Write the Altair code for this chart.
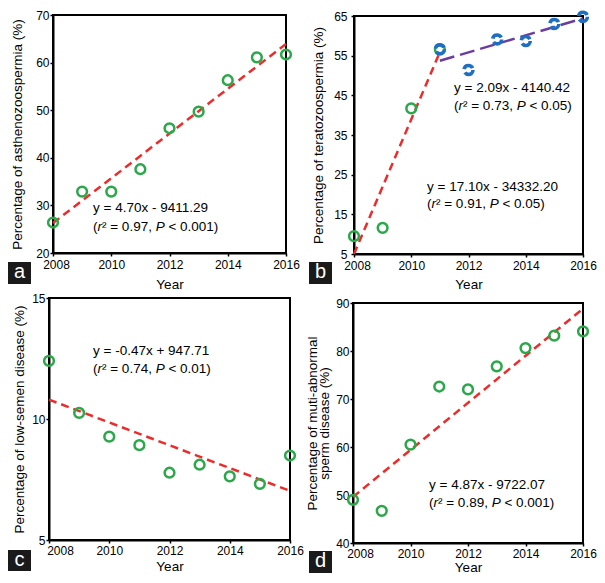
import altair as alt
import pandas as pd

FONT = "Liberation Sans"
GREEN = "#2aa84a"
BLUE = "#1f6fc0"
RED = "#ee2b2b"
PURPLE = "#6a3d9f"

# ---------------- data ----------------
years = [2008, 2009, 2010, 2011, 2012, 2013, 2014, 2015, 2016]
astheno_pct = [26.4, 32.9, 32.9, 37.6, 46.2, 49.7, 56.3, 61.1, 61.7]

terato_years_1 = [2008, 2009, 2010, 2011]
terato_pct_1 = [9.5, 11.6, 41.7, 56.6]
terato_years_2 = [2011, 2012, 2013, 2014, 2015, 2016]
terato_pct_2 = [56.6, 51.4, 59.1, 58.7, 63.0, 64.8]

lowsemen_pct = [12.4, 10.25, 9.27, 8.92, 7.78, 8.11, 7.63, 7.32, 8.49]
multi_pct = [49.0, 46.7, 60.5, 72.6, 72.0, 76.8, 80.6, 83.2, 84.1]

# fitted trend lines (end points)
fit_a_years = [2008, 2016]
fit_a = [26.3, 63.9]
fit_b1_years = [2008, 2011]
fit_b1 = [5.0, 55.9]
fit_b2_years = [2011, 2016]
fit_b2 = [53.7, 64.4]
fit_c_years = [2008, 2016]
fit_c = [10.8, 7.03]
fit_d_years = [2008, 2016]
fit_d = [49.6, 88.8]

x_ticks = [2008, 2010, 2012, 2014, 2016]

TOTAL_W, TOTAL_H = 589, 567

# ---------------- helpers ----------------
W = {'(': .333, ')': .333, 'r': .333, '\u00b2': .333, ' ': .278, '=': .584,
     '.': .278, ',': .278, 'P': .667, '<': .584, '-': .333, '+': .584,
     'x': .5, 'y': .5}
for d in "0123456789":
    W[d] = .556
EQ_FS = 13.5


def tw(s, fs=EQ_FS):
    return sum(W.get(c, .556) for c in s) * fs


def enc(xr, yr, ydomain, yticks, ytitle, ytp, ylp, xtp, xlp, first_off):
    xaxis = dict(values=x_ticks, format="d", title="Year", orient="bottom",
                 offset=yr[0] - TOTAL_H, titlePadding=xtp, labelPadding=xlp,
                 labelOffset={"condition": {"test": "datum.value == 2008", "value": first_off},
                              "value": 0})
    x = alt.X("Year:Q",
              scale=alt.Scale(domain=[2008, 2016], range=xr, nice=False, zero=False),
              axis=alt.Axis(**xaxis))
    y = alt.Y("Pct:Q",
              scale=alt.Scale(domain=ydomain, range=yr, nice=False, zero=False),
              axis=alt.Axis(values=yticks, title=ytitle, orient="left", offset=-xr[0],
                            titlePadding=ytp, labelPadding=ylp))
    return x, y


def frame(ydomain, x, y):
    df = pd.DataFrame({"Year": [2008], "Year2": [2016],
                       "Pct": [ydomain[0]], "Pct2": [ydomain[1]]})
    return alt.Chart(df).mark_rect(fill="transparent", stroke="black", strokeWidth=2).encode(
        x=x, x2=alt.X2("Year2"), y=y, y2=alt.Y2("Pct2"))


def points(yrs, vals, color, x, y, dashed=False):
    df = pd.DataFrame({"Year": yrs, "Pct": vals})
    if dashed:
        m = alt.Chart(df).mark_point(shape="circle", filled=False, size=80, strokeWidth=3.6,
                                     strokeDash=[11, 3.5], color=color, opacity=1)
    else:
        m = alt.Chart(df).mark_point(shape="circle", filled=False, size=95, strokeWidth=2.5,
                                     color=color, opacity=1)
    return m.encode(x=x, y=y)


def fitline(yrs, vals, color, dash, x, y):
    df = pd.DataFrame({"Year": yrs, "Pct": vals})
    return alt.Chart(df).mark_line(color=color, strokeWidth=2.5, strokeDash=dash).encode(
        x=x, y=y)


def equation(px, py1, py2, line1, r2, pval):
    layers = []
    base = alt.Chart(pd.DataFrame({"k": [0]}))
    layers.append(base.mark_text(text=line1, align="left", baseline="middle", fontSize=EQ_FS,
                                 font=FONT, color="black")
                  .encode(x=alt.value(px), y=alt.value(py1)))
    # (r² = v, P < p) built from pieces; spaces are kept as offsets
    pieces = [("(", False), ("r", True), ("\u00b2 = %s," % r2, False), (" ", False),
              ("P", True), (" ", False), ("< %s)" % pval, False)]
    off = 0.0
    for txt, ital in pieces:
        if txt.strip():
            layers.append(base.mark_text(text=txt, align="left", baseline="middle",
                                         fontSize=EQ_FS, font=FONT, color="black",
                                         fontStyle="italic" if ital else "normal")
                          .encode(x=alt.value(px + off), y=alt.value(py2)))
        off += tw(txt)
    return layers


def letterbox(letter, x1, x2, y1, y2):
    base = alt.Chart(pd.DataFrame({"k": [0]}))
    rect = base.mark_rect(color="#1a1a1a").encode(
        x=alt.value(x1), x2=alt.value(x2), y=alt.value(y1), y2=alt.value(y2))
    txt = base.mark_text(text=letter, align="center", baseline="middle", fontSize=20,
                         font=FONT, color="white").encode(
        x=alt.value((x1 + x2) / 2), y=alt.value((y1 + y2) / 2 - 1))
    return [rect, txt]


# ---------------- panel a ----------------
dom_a = [20, 70]
xa, ya = enc([45, 278], [245, 7], dom_a, [20, 30, 40, 50, 60, 70],
             "Percentage of asthenozoospermia (%)", 11, 1, 7, 3, 3)
panel_a = alt.layer(
    frame(dom_a, xa, ya),
    fitline(fit_a_years, fit_a, RED, [8, 5], xa, ya),
    points(years, astheno_pct, GREEN, xa, ya),
    *equation(85, 200, 219, "y = 4.70x - 9411.29", "0.97", "0.001"),
    *letterbox("a", 0, 23, 254, 276),
)

# ---------------- panel b ----------------
dom_b = [5, 65]
xb, yb = enc([346, 575], [246, 8], dom_b, [5, 15, 25, 35, 45, 55, 65],
             "Percentage of teratozoospermia (%)", 8, 4, 6, 3, 3)
panel_b = alt.layer(
    frame(dom_b, xb, yb),
    fitline(fit_b1_years, fit_b1, RED, [8, 5], xb, yb),
    points(terato_years_1, terato_pct_1, GREEN, xb, yb),
    fitline(fit_b2_years, fit_b2, PURPLE, [15, 6], xb, yb),
    points(terato_years_2, terato_pct_2, BLUE, xb, yb, dashed=True),
    *equation(446, 80, 98, "y = 2.09x - 4140.42", "0.73", "0.05"),
    *equation(419, 179, 196, "y = 17.10x - 34332.20", "0.91", "0.05"),
    *letterbox("b", 301, 324, 254, 276),
)

# ---------------- panel c ----------------
dom_c = [5, 15]
xc, yc = enc([41, 282], [532, 290], dom_c, [5, 10, 15],
             "Percentage of low-semen disease (%)", 5, 1, 3, 2, 11)
panel_c = alt.layer(
    frame(dom_c, xc, yc),
    fitline(fit_c_years, fit_c, RED, [8, 5], xc, yc),
    points(years, lowsemen_pct, GREEN, xc, yc),
    *equation(85, 343, 361, "y = -0.47x + 947.71", "0.74", "0.01"),
    *letterbox("c", 0, 23, 542, 563),
)

# ---------------- panel d ----------------
dom_d = [40, 90]
xd, yd = enc([345, 575], [535, 295], dom_d, [40, 50, 60, 70, 80, 90],
             ["Percentage of muti-abnormal", "sperm disease (%)"], 4, 1, 1, 2, 7)
panel_d = alt.layer(
    frame(dom_d, xd, yd),
    fitline(fit_d_years, fit_d, RED, [8, 5], xd, yd),
    points(years, multi_pct, GREEN, xd, yd),
    *equation(421, 477, 495, "y = 4.87x - 9722.07", "0.89", "0.001"),
    *letterbox("d", 301, 324, 543, 565),
)

chart = alt.layer(panel_a, panel_b, panel_c, panel_d).resolve_scale(
    x="independent", y="independent"
).resolve_axis(
    x="independent", y="independent"
).properties(
    width=TOTAL_W, height=TOTAL_H,
    autosize=alt.AutoSizeParams(type="none"),
    padding={"left": 0, "top": 0, "right": 0, "bottom": 0}
).configure_view(
    stroke="transparent"
).configure_axis(
    grid=False, domainColor="black", domainWidth=2, tickColor="black", tickWidth=1.5,
    tickSize=3, labelFont=FONT, labelFontSize=12, labelColor="black",
    titleFont=FONT, titleFontSize=13.5, titleFontWeight="normal", titleColor="black",
    labelFlush=False, titleLineHeight=12
)

chart.save("out.html", embed_options={"renderer": "svg", "actions": False})
